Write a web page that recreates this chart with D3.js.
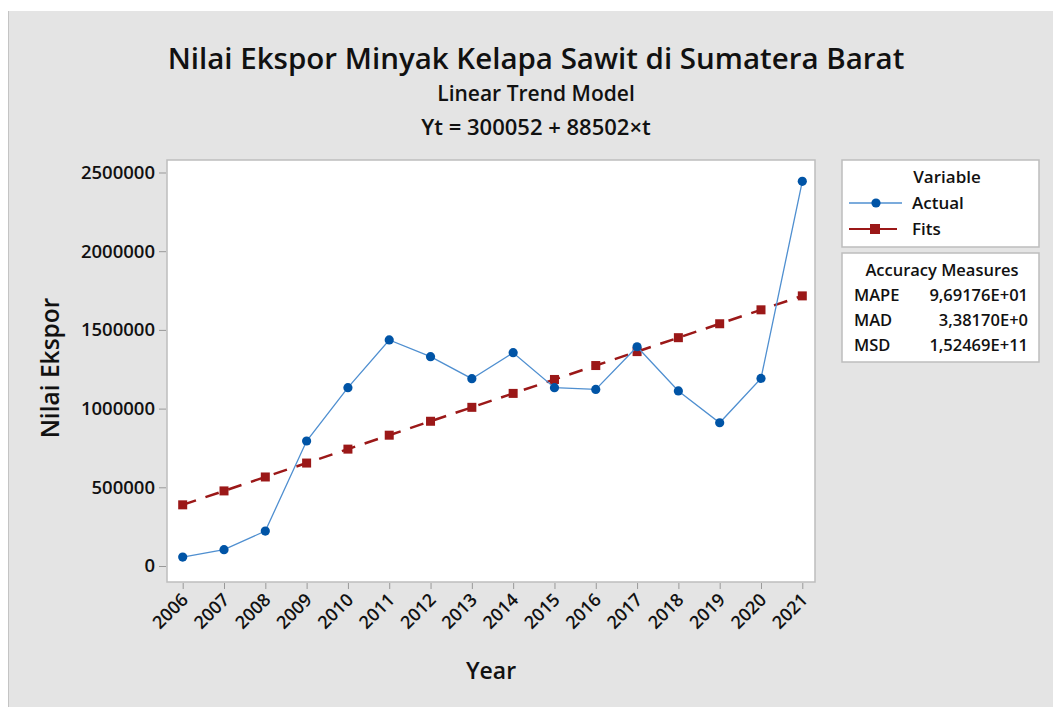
<!DOCTYPE html>
<html>
<head>
<meta charset="utf-8">
<script src="https://cdn.jsdelivr.net/npm/d3@7"></script>
<style>
  body { margin: 0; background: #fff; }
  text { font-family: 'Open Sans', 'Noto Sans', sans-serif; fill: #111; font-weight: 600; }
</style>
</head>
<body>
<script>
var width = 1059,
    height = 709;

var years = [2006, 2007, 2008, 2009, 2010, 2011, 2012, 2013, 2014, 2015, 2016, 2017, 2018, 2019, 2020, 2021];
var actual = [57000, 104000, 222000, 794000, 1133000, 1436000, 1330000, 1190000, 1355000, 1133000, 1122000, 1393000, 1112000, 910000, 1192000, 2444000];
var fits = [388554, 477056, 565558, 654060, 742562, 831064, 919566, 1008068, 1096570, 1185072, 1273574, 1362076, 1450578, 1539080, 1627582, 1716084];
var yTicks = [0, 500000, 1000000, 1500000, 2000000, 2500000];
var seriesNames = ['Actual', 'Fits'];
var measureNames = ['MAPE', 'MAD', 'MSD'];
var measureValues = ['9,69176E+01', '3,38170E+0', '1,52469E+11'];

var blue = '#0054a6',
    blueLine = '#4f8fd0',
    red = '#9b1818';

var plot = { left: 167, right: 815, top: 160, bottom: 582 };

var svg = d3.select('body').append('svg')
    .attr('width', width)
    .attr('height', height);

// grey background panel
svg.append('rect').attr('x', 8).attr('y', 11).attr('width', 1045).attr('height', 696)
    .style('fill', '#e4e4e4');
svg.append('line').attr('x1', 8.5).attr('x2', 8.5).attr('y1', 11).attr('y2', 707)
    .style('stroke', '#c4c4c4');

var x = d3.scaleLinear().domain([2006, 2021]).range([182.7, 802.3]);
var y = d3.scaleLinear().domain([0, 2500000]).range([566, 172.5]);

svg.append('rect')
    .attr('x', plot.left).attr('y', plot.top)
    .attr('width', plot.right - plot.left).attr('height', plot.bottom - plot.top)
    .style('fill', '#fff').style('stroke', '#bdbdbd').style('stroke-width', 1.5);

// axes
var yAxis = d3.axisLeft(y).tickValues(yTicks).tickSize(7).tickPadding(4)
    .tickFormat(d3.format('d'));
var gy = svg.append('g').attr('transform', 'translate(' + (plot.left - 1) + ',0)').call(yAxis);
gy.select('.domain').remove();
gy.selectAll('line').style('stroke', '#999');
gy.selectAll('text').style('font-size', '18.5px').style('fill', '#111');

var xAxis = d3.axisBottom(x).tickValues(years).tickSize(6).tickFormat(d3.format('d'));
var gx = svg.append('g').attr('transform', 'translate(0,' + (plot.bottom + 1) + ')').call(xAxis);
gx.select('.domain').remove();
gx.selectAll('line').style('stroke', '#999');
gx.selectAll('text')
    .style('font-size', '18px').style('fill', '#111')
    .attr('text-anchor', 'end')
    .attr('dy', 0).attr('y', 0)
    .attr('transform', 'translate(6,18) rotate(-45)');

// fits line (dashed red with squares)
var line = d3.line()
    .x(function(d, i){ return x(years[i]); })
    .y(function(d){ return y(d); });

svg.append('path').datum(fits).attr('d', line)
    .style('fill', 'none').style('stroke', red).style('stroke-width', 2.5)
    .style('stroke-dasharray', '14,10');

svg.selectAll('.fit').data(fits).enter().append('rect')
    .attr('class', 'fit')
    .attr('x', function(d, i){ return x(years[i]) - 4.5; })
    .attr('y', function(d){ return y(d) - 4.5; })
    .attr('width', 9).attr('height', 9)
    .style('fill', red);

// actual line
svg.append('path').datum(actual).attr('d', line)
    .style('fill', 'none').style('stroke', blueLine).style('stroke-width', 1.3);

svg.selectAll('.act').data(actual).enter().append('circle')
    .attr('class', 'act')
    .attr('cx', function(d, i){ return x(years[i]); })
    .attr('cy', function(d){ return y(d); })
    .attr('r', 4.6)
    .style('fill', blue);

// titles
svg.append('text').text('Nilai Ekspor Minyak Kelapa Sawit di Sumatera Barat')
    .attr('x', 536).attr('y', 69).attr('text-anchor', 'middle').style('font-size', '29.5px');
svg.append('text').text('Linear Trend Model')
    .attr('x', 536).attr('y', 101).attr('text-anchor', 'middle').style('font-size', '21px');
svg.append('text').text('Yt = 300052 + 88502\u00d7t')
    .attr('x', 536).attr('y', 135).attr('text-anchor', 'middle').style('font-size', '22px');

svg.append('text').text('Year')
    .attr('x', 491).attr('y', 679).attr('text-anchor', 'middle').style('font-size', '23px');
svg.append('text').text('Nilai Ekspor')
    .attr('transform', 'translate(59,368) rotate(-90)').attr('text-anchor', 'middle')
    .style('font-size', '24.5px');

// legend
var legend = svg.append('g');
legend.append('rect').attr('x', 842).attr('y', 160).attr('width', 197).attr('height', 87)
    .style('fill', '#fff').style('stroke', '#bdbdbd').style('stroke-width', 1.5);
legend.append('text').text('Variable').attr('x', 947).attr('y', 183)
    .attr('text-anchor', 'middle').style('font-size', '17px');

var rowY = [203, 229];
legend.append('line').attr('x1', 849).attr('x2', 902).attr('y1', rowY[0]).attr('y2', rowY[0])
    .style('stroke', blueLine).style('stroke-width', 1.3);
legend.append('circle').attr('cx', 876).attr('cy', rowY[0]).attr('r', 4.6).style('fill', blue);
legend.append('line').attr('x1', 849).attr('x2', 897).attr('y1', rowY[1]).attr('y2', rowY[1])
    .style('stroke', red).style('stroke-width', 2.2);
legend.append('rect').attr('x', 870).attr('y', rowY[1] - 5).attr('width', 10).attr('height', 10)
    .style('fill', red);
seriesNames.forEach(function(n, i){
    legend.append('text').text(n).attr('x', 912).attr('y', rowY[i] + 6).style('font-size', '17px');
});

var acc = svg.append('g');
acc.append('rect').attr('x', 842).attr('y', 253).attr('width', 197).attr('height', 109)
    .style('fill', '#fff').style('stroke', '#bdbdbd').style('stroke-width', 1.5);
acc.append('text').text('Accuracy Measures').attr('x', 942).attr('y', 276)
    .attr('text-anchor', 'middle').style('font-size', '16.5px');
measureNames.forEach(function(n, i){
    acc.append('text').text(n).attr('x', 854).attr('y', 301 + i * 25).style('font-size', '16.5px');
    acc.append('text').text(measureValues[i]).attr('x', 1028).attr('y', 301 + i * 25)
        .attr('text-anchor', 'end').style('font-size', '16.5px');
});
</script>
</body>
</html>
